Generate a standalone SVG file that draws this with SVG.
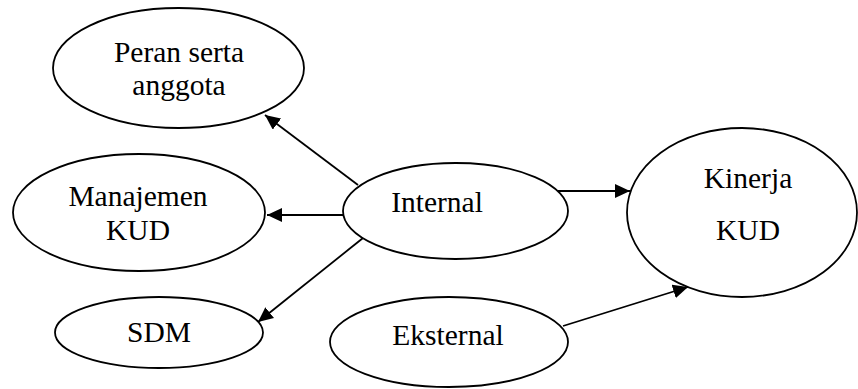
<svg xmlns="http://www.w3.org/2000/svg" width="858" height="389" viewBox="0 0 858 389">
<style>
.node ellipse{fill:#fff;stroke:#000;stroke-width:1.8}
.node text{font-family:"Liberation Serif","Times New Roman",serif;font-size:29.5px;fill:#000;text-anchor:middle}
.edge{stroke:#000;stroke-width:1.8;fill:none;marker-end:url(#arr)}
</style>
<defs>
<marker id="arr" markerUnits="userSpaceOnUse" markerWidth="15" markerHeight="14" refX="15" refY="7" orient="auto">
<path d="M0,0 L15,7 L0,14 z" fill="#000"/>
</marker>
</defs>
<rect width="858" height="389" fill="#fff"/>
<g id="peran" class="node">
<ellipse cx="178.5" cy="68" rx="125.5" ry="60"/>
<text x="179" y="62">Peran serta</text>
<text x="179" y="95">anggota</text>
</g>
<g id="manajemen" class="node">
<ellipse cx="139" cy="212.5" rx="126" ry="58.5"/>
<text x="138" y="206">Manajemen</text>
<text x="138" y="240">KUD</text>
</g>
<g id="sdm" class="node">
<ellipse cx="159" cy="332.5" rx="104" ry="35.5"/>
<text x="159" y="342">SDM</text>
</g>
<g id="internal" class="node">
<ellipse cx="455.5" cy="211" rx="112.5" ry="48"/>
<text x="437" y="212">Internal</text>
</g>
<g id="eksternal" class="node">
<ellipse cx="449" cy="342" rx="119" ry="45"/>
<text x="448" y="345">Eksternal</text>
</g>
<g id="kinerja" class="node">
<ellipse cx="742" cy="212.5" rx="115" ry="84.5"/>
<text x="748" y="188">Kinerja</text>
<text x="748" y="240">KUD</text>
</g>
<g id="connectors">
<line class="edge" x1="358" y1="185" x2="265" y2="115"/>
<line class="edge" x1="343" y1="215" x2="267" y2="215"/>
<line class="edge" x1="363" y1="238" x2="258" y2="322"/>
<line class="edge" x1="558" y1="191" x2="630" y2="191"/>
<line class="edge" x1="563" y1="326" x2="688" y2="287"/>
</g>
</svg>
